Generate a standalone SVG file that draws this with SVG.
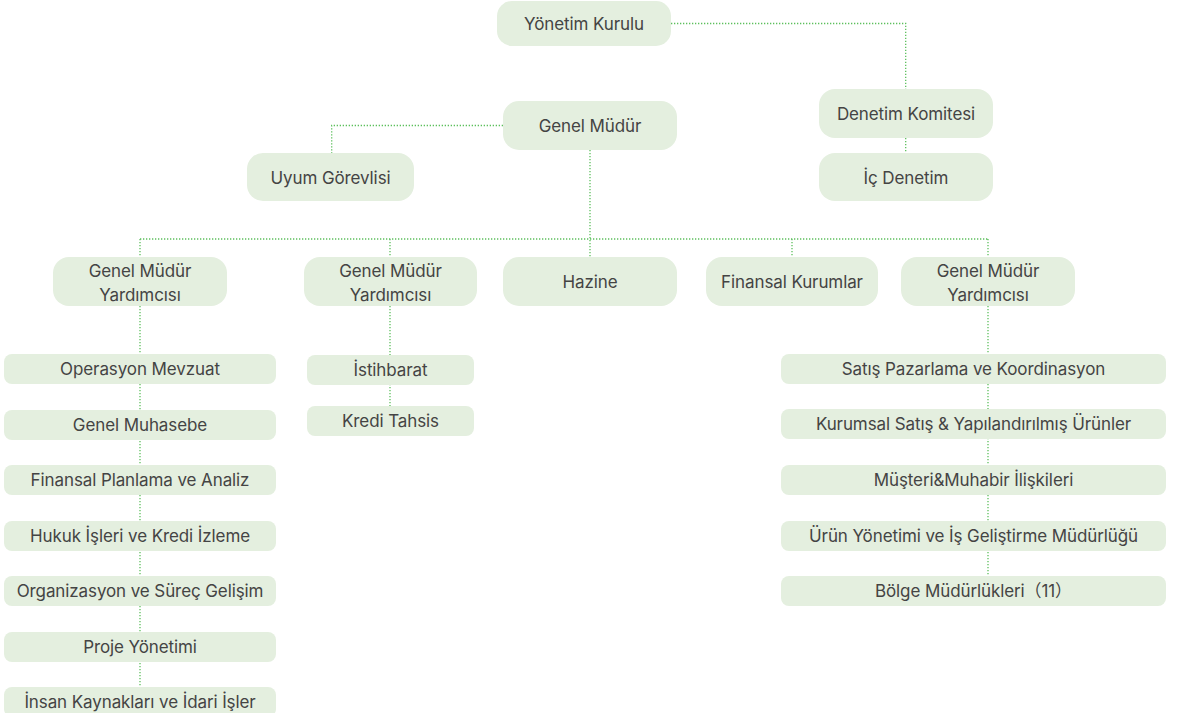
<svg xmlns="http://www.w3.org/2000/svg" width="1178" height="713" viewBox="0 0 1178 713">
<style>
.b{fill:#e4efdf}
.t{font-family:Inter,"Noto Sans","Noto Sans CJK SC",sans-serif;font-size:17px;font-weight:400;fill:#444;text-anchor:middle;letter-spacing:-0.1px}
.c{fill:none;stroke:#5cbf5c;stroke-width:1.3;stroke-dasharray:1.3 1.7}
</style>
<rect width="1178" height="713" fill="#fff"/>
<g id="connectors">
<path class="c" d="M671 23.5H905.7V89M905.7 138V153"/>
<path class="c" d="M503 125.5H331.7V153"/>
<path class="c" d="M590 150V257M140 239H988M140 239V257M390 239V257M792 239V257M988 239V257"/>
<path class="c" d="M140 306V687"/>
<path class="c" d="M390 306V406"/>
<path class="c" d="M988 306V576"/>
</g>
<g id="yonetim"><rect class="b" x="497" y="1" width="174" height="45" rx="15"/><text class="t" x="584" y="30">Yönetim Kurulu</text></g>
<g id="genelmudur"><rect class="b" x="503" y="101" width="174" height="49" rx="16"/><text class="t" x="590" y="132">Genel Müdür</text></g>
<g id="denetimkomitesi"><rect class="b" x="819" y="89" width="174" height="49" rx="16"/><text class="t" x="906" y="120">Denetim Komitesi</text></g>
<g id="icdenetim"><rect class="b" x="819" y="153" width="174" height="48" rx="16"/><text class="t" x="906" y="184">İç Denetim</text></g>
<g id="uyum"><rect class="b" x="247" y="153" width="167" height="48" rx="16"/><text class="t" x="330.5" y="184">Uyum Görevlisi</text></g>
<g id="gmy1"><rect class="b" x="53" y="257" width="174" height="49" rx="16"/><text class="t" x="140" y="277">Genel Müdür</text><text class="t" x="140" y="301">Yardımcısı</text></g>
<g id="gmy2"><rect class="b" x="304" y="257" width="173" height="49" rx="16"/><text class="t" x="390.5" y="277">Genel Müdür</text><text class="t" x="390.5" y="301">Yardımcısı</text></g>
<g id="hazine"><rect class="b" x="503" y="257" width="174" height="49" rx="16"/><text class="t" x="590" y="288">Hazine</text></g>
<g id="finansal"><rect class="b" x="706" y="257" width="172" height="49" rx="16"/><text class="t" x="792" y="288">Finansal Kurumlar</text></g>
<g id="gmy3"><rect class="b" x="901" y="257" width="174" height="49" rx="16"/><text class="t" x="988" y="277">Genel Müdür</text><text class="t" x="988" y="301">Yardımcısı</text></g>
<g id="operasyon"><rect class="b" x="4" y="354" width="272" height="30" rx="8"/><text class="t" x="140" y="375">Operasyon Mevzuat</text></g>
<g id="muhasebe"><rect class="b" x="4" y="410" width="272" height="30" rx="8"/><text class="t" x="140" y="431">Genel Muhasebe</text></g>
<g id="planlama"><rect class="b" x="4" y="465" width="272" height="30" rx="8"/><text class="t" x="140" y="486">Finansal Planlama ve Analiz</text></g>
<g id="hukuk"><rect class="b" x="4" y="521" width="272" height="30" rx="8"/><text class="t" x="140" y="542">Hukuk İşleri ve Kredi İzleme</text></g>
<g id="organizasyon"><rect class="b" x="4" y="576" width="272" height="30" rx="8"/><text class="t" x="140" y="597">Organizasyon ve Süreç Gelişim</text></g>
<g id="proje"><rect class="b" x="4" y="632" width="272" height="30" rx="8"/><text class="t" x="140" y="653">Proje Yönetimi</text></g>
<g id="insan"><rect class="b" x="4" y="687" width="272" height="30" rx="8"/><text class="t" x="140" y="708">İnsan Kaynakları ve İdari İşler</text></g>
<g id="istihbarat"><rect class="b" x="307" y="355" width="167" height="30" rx="8"/><text class="t" x="390.5" y="376">İstihbarat</text></g>
<g id="kredi"><rect class="b" x="307" y="406" width="167" height="30" rx="8"/><text class="t" x="390.5" y="427">Kredi Tahsis</text></g>
<g id="satis"><rect class="b" x="781" y="354" width="385" height="30" rx="8"/><text class="t" x="973.5" y="375">Satış Pazarlama ve Koordinasyon</text></g>
<g id="kurumsal"><rect class="b" x="781" y="409" width="385" height="30" rx="8"/><text class="t" x="973.5" y="430">Kurumsal Satış &amp; Yapılandırılmış Ürünler</text></g>
<g id="musteri"><rect class="b" x="781" y="465" width="385" height="30" rx="8"/><text class="t" x="973.5" y="486">Müşteri&amp;Muhabir İlişkileri</text></g>
<g id="urun"><rect class="b" x="781" y="521" width="385" height="30" rx="8"/><text class="t" x="973.5" y="542">Ürün Yönetimi ve İş Geliştirme Müdürlüğü</text></g>
<g id="bolge"><rect class="b" x="781" y="576" width="385" height="30" rx="8"/><text class="t" x="973.5" y="597">Bölge Müdürlükleri（11）</text></g>
</svg>
